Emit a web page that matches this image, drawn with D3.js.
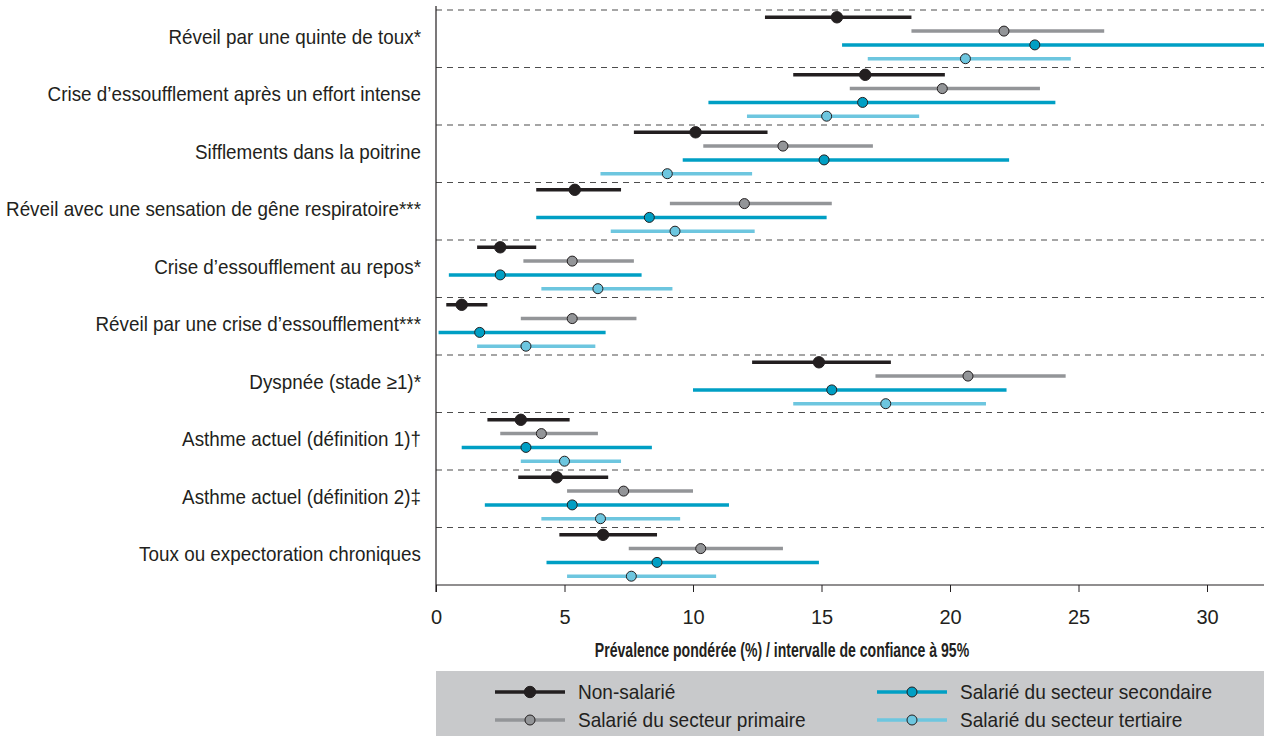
<!DOCTYPE html>
<html>
<head>
<meta charset="utf-8">
<script src="https://cdn.jsdelivr.net/npm/d3@7"></script>
<style>
  body { margin: 0; background: #fff; }
  svg { display: block; font-family: "Liberation Sans", Arial, sans-serif; }
</style>
</head>
<body>
<div id="container"></div>
<script>
const categories = [
  "Réveil par une quinte de toux*",
  "Crise d’essoufflement après un effort intense",
  "Sifflements dans la poitrine",
  "Réveil avec une sensation de gêne respiratoire***",
  "Crise d’essoufflement au repos*",
  "Réveil par une crise d’essoufflement***",
  "Dyspnée (stade ≥1)*",
  "Asthme actuel (définition 1)†",
  "Asthme actuel (définition 2)‡",
  "Toux ou expectoration chroniques"
];

const seriesNames = [
  "Non-salarié",
  "Salarié du secteur primaire",
  "Salarié du secteur secondaire",
  "Salarié du secteur tertiaire"
];
const seriesColors = ["#231f20", "#939598", "#009fc4", "#6dc6df"];

// point estimates + 95% CI bounds, one array per series, in category order
const nonSalarieEst = [15.6, 16.7, 10.1, 5.4, 2.5, 1.0, 14.9, 3.3, 4.7, 6.5];
const nonSalarieLow = [12.8, 13.9, 7.7, 3.9, 1.6, 0.4, 12.3, 2.0, 3.2, 4.8];
const nonSalarieHigh = [18.5, 19.8, 12.9, 7.2, 3.9, 2.0, 17.7, 5.2, 6.7, 8.6];

const primaireEst = [22.1, 19.7, 13.5, 12.0, 5.3, 5.3, 20.7, 4.1, 7.3, 10.3];
const primaireLow = [18.5, 16.1, 10.4, 9.1, 3.4, 3.3, 17.1, 2.5, 5.1, 7.5];
const primaireHigh = [26.0, 23.5, 17.0, 15.4, 7.7, 7.8, 24.5, 6.3, 10.0, 13.5];

const secondaireEst = [23.3, 16.6, 15.1, 8.3, 2.5, 1.7, 15.4, 3.5, 5.3, 8.6];
const secondaireLow = [15.8, 10.6, 9.6, 3.9, 0.5, 0.1, 10.0, 1.0, 1.9, 4.3];
const secondaireHigh = [34.0, 24.1, 22.3, 15.2, 8.0, 6.6, 22.2, 8.4, 11.4, 14.9];

const tertiaireEst = [20.6, 15.2, 9.0, 9.3, 6.3, 3.5, 17.5, 5.0, 6.4, 7.6];
const tertiaireLow = [16.8, 12.1, 6.4, 6.8, 4.1, 1.6, 13.9, 3.3, 4.1, 5.1];
const tertiaireHigh = [24.7, 18.8, 12.3, 12.4, 9.2, 6.2, 21.4, 7.2, 9.5, 10.9];

const xTicks = [0, 5, 10, 15, 20, 25, 30];
const xTitle = "Prévalence pondérée (%) / intervalle de confiance à 95%";

const w = 1264;
const h = 736;
const plotLeft = 436;
const plotTop = 10;
const plotBottom = 585;

const est = [nonSalarieEst, primaireEst, secondaireEst, tertiaireEst];
const low = [nonSalarieLow, primaireLow, secondaireLow, tertiaireLow];
const high = [nonSalarieHigh, primaireHigh, secondaireHigh, tertiaireHigh];

const rows = [];
categories.forEach((c, i) => {
  seriesNames.forEach((s, j) => {
    rows.push({ cat: c, series: j, est: est[j][i], low: low[j][i], high: high[j][i] });
  });
});

const svg = d3.select("#container")
              .append("svg")
              .attr("width", w)
              .attr("height", h);

const x = d3.scaleLinear().domain([0, 30]).range([plotLeft, 1207]);
const y = d3.scaleBand().domain(categories).range([plotTop, plotBottom]);
const ySub = d3.scalePoint().domain(d3.range(4)).range([7.3, 48.7]);

svg.append("defs").append("clipPath")
   .attr("id", "plotclip")
   .append("rect")
   .attr("x", plotLeft)
   .attr("y", 0)
   .attr("width", w - plotLeft)
   .attr("height", plotBottom);

// dashed separators
svg.selectAll("line.sep")
   .data(categories)
   .enter()
   .append("line")
   .attr("class", "sep")
   .attr("x1", plotLeft)
   .attr("x2", w)
   .attr("y1", d => y(d))
   .attr("y2", d => y(d))
   .attr("stroke", "#4d4d4d")
   .attr("stroke-width", 1.2)
   .attr("stroke-dasharray", "6,5");

// category labels (the original face is a condensed grotesque, so squeeze horizontally)
svg.selectAll("g.cat")
   .data(categories)
   .enter()
   .append("g")
   .attr("class", "cat")
   .attr("transform", d => `translate(421,${y(d) + y.bandwidth() / 2 + 5}) scale(0.92,1)`)
   .append("text")
   .attr("text-anchor", "end")
   .style("font-size", "20.5px")
   .attr("fill", "#231f20")
   .text(d => d);

// axes
const xAxis = svg.append("g")
   .attr("transform", `translate(0,${plotBottom})`)
   .call(d3.axisBottom(x).tickValues(xTicks).tickSize(7).tickPadding(18));
xAxis.select(".domain").attr("d", `M${plotLeft},0H${w}`).attr("stroke", "#231f20").attr("stroke-width", 1.2);
xAxis.selectAll(".tick line").attr("stroke", "#231f20");
xAxis.selectAll("text").style("font-size", "20px").attr("fill", "#231f20").attr("font-family", null);

svg.append("line")
   .attr("x1", plotLeft).attr("x2", plotLeft)
   .attr("y1", 6).attr("y2", plotBottom + 7)
   .attr("stroke", "#231f20")
   .attr("stroke-width", 1.2);

svg.append("g")
   .attr("transform", "translate(782,657) scale(0.67,1)")
   .append("text")
   .attr("text-anchor", "middle")
   .style("font-size", "21px")
   .style("font-weight", "bold")
   .attr("fill", "#231f20")
   .text(xTitle);

// CI lines + points
const marks = svg.append("g").attr("clip-path", "url(#plotclip)");
const g = marks.selectAll("g.row")
   .data(rows)
   .enter()
   .append("g")
   .attr("class", "row");

g.append("line")
 .attr("x1", d => x(d.low))
 .attr("x2", d => x(d.high))
 .attr("y1", d => y(d.cat) + ySub(d.series))
 .attr("y2", d => y(d.cat) + ySub(d.series))
 .attr("stroke", d => seriesColors[d.series])
 .attr("stroke-width", 3.5);

g.append("circle")
 .attr("cx", d => x(d.est))
 .attr("cy", d => y(d.cat) + ySub(d.series))
 .attr("r", d => d.series === 0 ? 5.7 : 5)
 .attr("fill", d => seriesColors[d.series])
 .attr("stroke", "#231f20")
 .attr("stroke-width", 1);

// legend
svg.append("rect")
   .attr("x", plotLeft)
   .attr("y", 671)
   .attr("width", w - plotLeft)
   .attr("height", h - 671)
   .attr("fill", "#c8c9cb");

const legendPos = [[495, 692], [495, 720], [877, 692], [877, 720]];
const lg = svg.selectAll("g.legend")
   .data(seriesNames)
   .enter()
   .append("g")
   .attr("class", "legend")
   .attr("transform", (d, i) => `translate(${legendPos[i][0]},${legendPos[i][1]})`);

lg.append("line")
  .attr("x1", 0).attr("x2", 70)
  .attr("stroke", (d, i) => seriesColors[i])
  .attr("stroke-width", 3.5);
lg.append("circle")
  .attr("cx", 35)
  .attr("r", (d, i) => i === 0 ? 5.7 : 5)
  .attr("fill", (d, i) => seriesColors[i])
  .attr("stroke", "#231f20")
  .attr("stroke-width", 1);
lg.append("g")
  .attr("transform", "translate(83,7) scale(0.93,1)")
  .append("text")
  .style("font-size", "20.5px")
  .attr("fill", "#231f20")
  .text(d => d);
</script>
</body>
</html>
